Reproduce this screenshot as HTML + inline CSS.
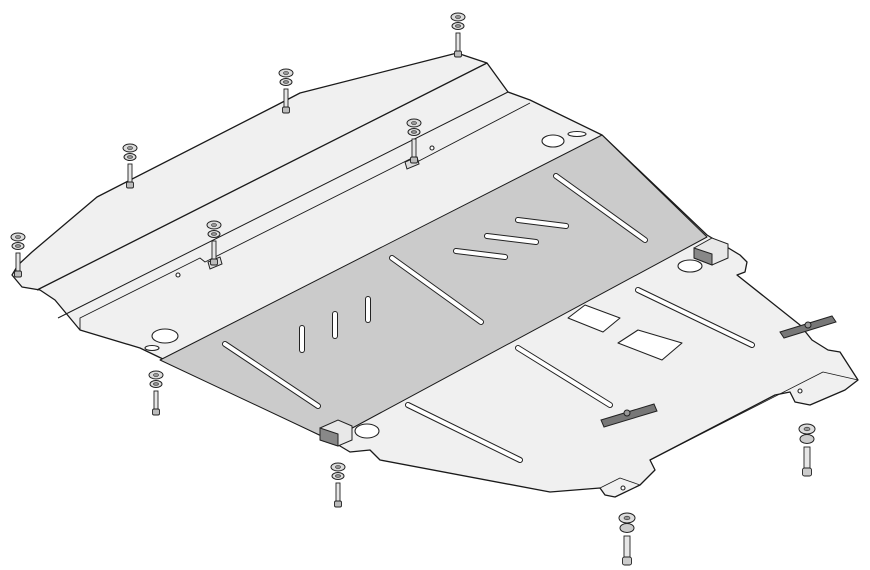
<!DOCTYPE html>
<html><head><meta charset="utf-8"><style>html,body{margin:0;padding:0;background:#fff}svg{display:block}</style></head>
<body>
<svg width="870" height="570" viewBox="0 0 870 570" xmlns="http://www.w3.org/2000/svg">
<defs>
<g id="bolt">
<ellipse cx="0" cy="5" rx="7" ry="4" fill="#ddd" stroke="#222" stroke-width="1"/>
<ellipse cx="0" cy="5" rx="2.5" ry="1.5" fill="#999" stroke="#222" stroke-width="0.6"/>
<ellipse cx="0" cy="14" rx="6" ry="3.5" fill="#ddd" stroke="#222" stroke-width="1"/>
<ellipse cx="0" cy="14" rx="2.5" ry="1.3" fill="#999" stroke="#222" stroke-width="0.6"/>
<rect x="-2" y="21" width="4" height="20" fill="#e6e6e6" stroke="#222" stroke-width="0.9"/>
<rect x="-3.5" y="39" width="7" height="6" rx="1.5" fill="#bbb" stroke="#222" stroke-width="0.9"/>
</g>
<g id="bigbolt">
<ellipse cx="0" cy="6" rx="8" ry="5" fill="#ddd" stroke="#222" stroke-width="1"/>
<ellipse cx="0" cy="6" rx="3" ry="1.8" fill="#999" stroke="#222" stroke-width="0.6"/>
<ellipse cx="0" cy="16" rx="7" ry="4.5" fill="#ccc" stroke="#222" stroke-width="1"/>
<rect x="-3" y="24" width="6" height="24" fill="#e6e6e6" stroke="#222" stroke-width="0.9"/>
<rect x="-4.5" y="45" width="9" height="8" rx="2" fill="#ccc" stroke="#222" stroke-width="0.9"/>
</g>
</defs>
<g stroke="#1a1a1a" stroke-width="1.3" stroke-linejoin="round">
<path d="M12,275 L18,265 L32,252 L97,197 L277,105 L300,93 L457,53 L487,63 L508,92 L530,100 L602,135 L707,235 L740,255 L747,262 L745,272 L737,275 L800,325 L812,340 L828,350 L840,352 L858,380 L845,390 L810,405 L795,402 L790,392 L775,395 L650,460 L655,470 L640,485 L615,497 L605,495 L600,488 L550,492 L380,460 L370,450 L350,452 L330,440 L165,360 L140,348 L80,330 L55,300 L40,290 L22,287 Z" fill="#f0f0f0"/>
<path d="M160,360 L602,135 L707,237 L330,440 Z" fill="#cbcbcb" stroke-width="1"/>
<path d="M37,290 L487,63" fill="none"/>
<path d="M58,318 L508,92" fill="none" stroke-width="1"/>
<path d="M80,330 L80,318 L200,258 L205,262 L410,159 L415,163 L530,103" fill="none" stroke-width="0.9"/>
<path d="M650,460 L823,372 L858,380" fill="none" stroke-width="0.8"/>
<path d="M600,488 L620,478 L640,485" fill="none" stroke-width="0.8"/>
</g>
<g fill="#fff" stroke="#222" stroke-width="1.1" stroke-linecap="round">
<g stroke-width="6" stroke="#222"><line x1="225" y1="344" x2="318" y2="406"/><line x1="392" y1="258" x2="481" y2="322"/><line x1="556" y1="176" x2="645" y2="240"/>
<line x1="302" y1="328" x2="302" y2="350"/><line x1="335" y1="314" x2="335" y2="336"/><line x1="368" y1="299" x2="368" y2="320"/>
<line x1="456" y1="251" x2="505" y2="257"/><line x1="487" y1="236" x2="536" y2="242"/><line x1="518" y1="220" x2="566" y2="226"/>
<line x1="408" y1="405" x2="520" y2="460"/><line x1="518" y1="348" x2="610" y2="405"/><line x1="638" y1="290" x2="752" y2="345"/></g>
<g stroke-width="4" stroke="#fff"><line x1="225" y1="344" x2="318" y2="406"/><line x1="392" y1="258" x2="481" y2="322"/><line x1="556" y1="176" x2="645" y2="240"/>
<line x1="302" y1="328" x2="302" y2="350"/><line x1="335" y1="314" x2="335" y2="336"/><line x1="368" y1="299" x2="368" y2="320"/>
<line x1="456" y1="251" x2="505" y2="257"/><line x1="487" y1="236" x2="536" y2="242"/><line x1="518" y1="220" x2="566" y2="226"/>
<line x1="408" y1="405" x2="520" y2="460"/><line x1="518" y1="348" x2="610" y2="405"/><line x1="638" y1="290" x2="752" y2="345"/></g>
<path d="M568,318 L585,305 L620,318 L603,332 Z" stroke-linejoin="round"/>
<path d="M618,343 L638,330 L682,343 L662,360 Z" stroke-linejoin="round"/>
<ellipse cx="165" cy="336" rx="13" ry="7"/>
<ellipse cx="152" cy="348" rx="7" ry="2.5"/>
<ellipse cx="553" cy="141" rx="11" ry="6"/>
<ellipse cx="577" cy="134" rx="9" ry="2.5"/>
<ellipse cx="690" cy="266" rx="12" ry="6"/>
<ellipse cx="367" cy="431" rx="12" ry="7"/>
<circle cx="178" cy="275" r="2"/><circle cx="432" cy="148" r="2"/><circle cx="800" cy="391" r="2"/><circle cx="623" cy="488" r="2"/>
</g>
<g stroke="#222" stroke-width="1">
<path d="M780,332 L832,316 L836,322 L784,338 Z" fill="#777"/>
<path d="M601,420 L654,404 L657,411 L604,427 Z" fill="#777"/>
<circle cx="808" cy="325" r="3" fill="#999"/><circle cx="627" cy="413" r="3" fill="#999"/>
<path d="M694,248 L712,238 L728,244 L728,258 L712,265 L694,258 Z" fill="#e8e8e8"/>
<path d="M694,248 L712,254 L712,265 L694,258 Z" fill="#888"/>
<path d="M320,428 L338,420 L352,426 L352,440 L338,446 L320,440 Z" fill="#e8e8e8"/>
<path d="M320,428 L338,434 L338,446 L320,440 Z" fill="#888"/>
<path d="M208,262 L220,257 L222,264 L210,269 Z" fill="#ddd"/>
<path d="M405,162 L417,157 L419,164 L407,169 Z" fill="#ddd"/>
</g>
<use href="#bolt" x="458" y="12"/>
<use href="#bolt" x="286" y="68"/>
<use href="#bolt" x="130" y="143"/>
<use href="#bolt" x="18" y="232"/>
<use href="#bolt" x="214" y="220"/>
<use href="#bolt" x="414" y="118"/>
<use href="#bolt" x="156" y="370"/>
<use href="#bolt" x="338" y="462"/>
<use href="#bigbolt" x="627" y="512"/>
<use href="#bigbolt" x="807" y="423"/>
</svg>
</body></html>
